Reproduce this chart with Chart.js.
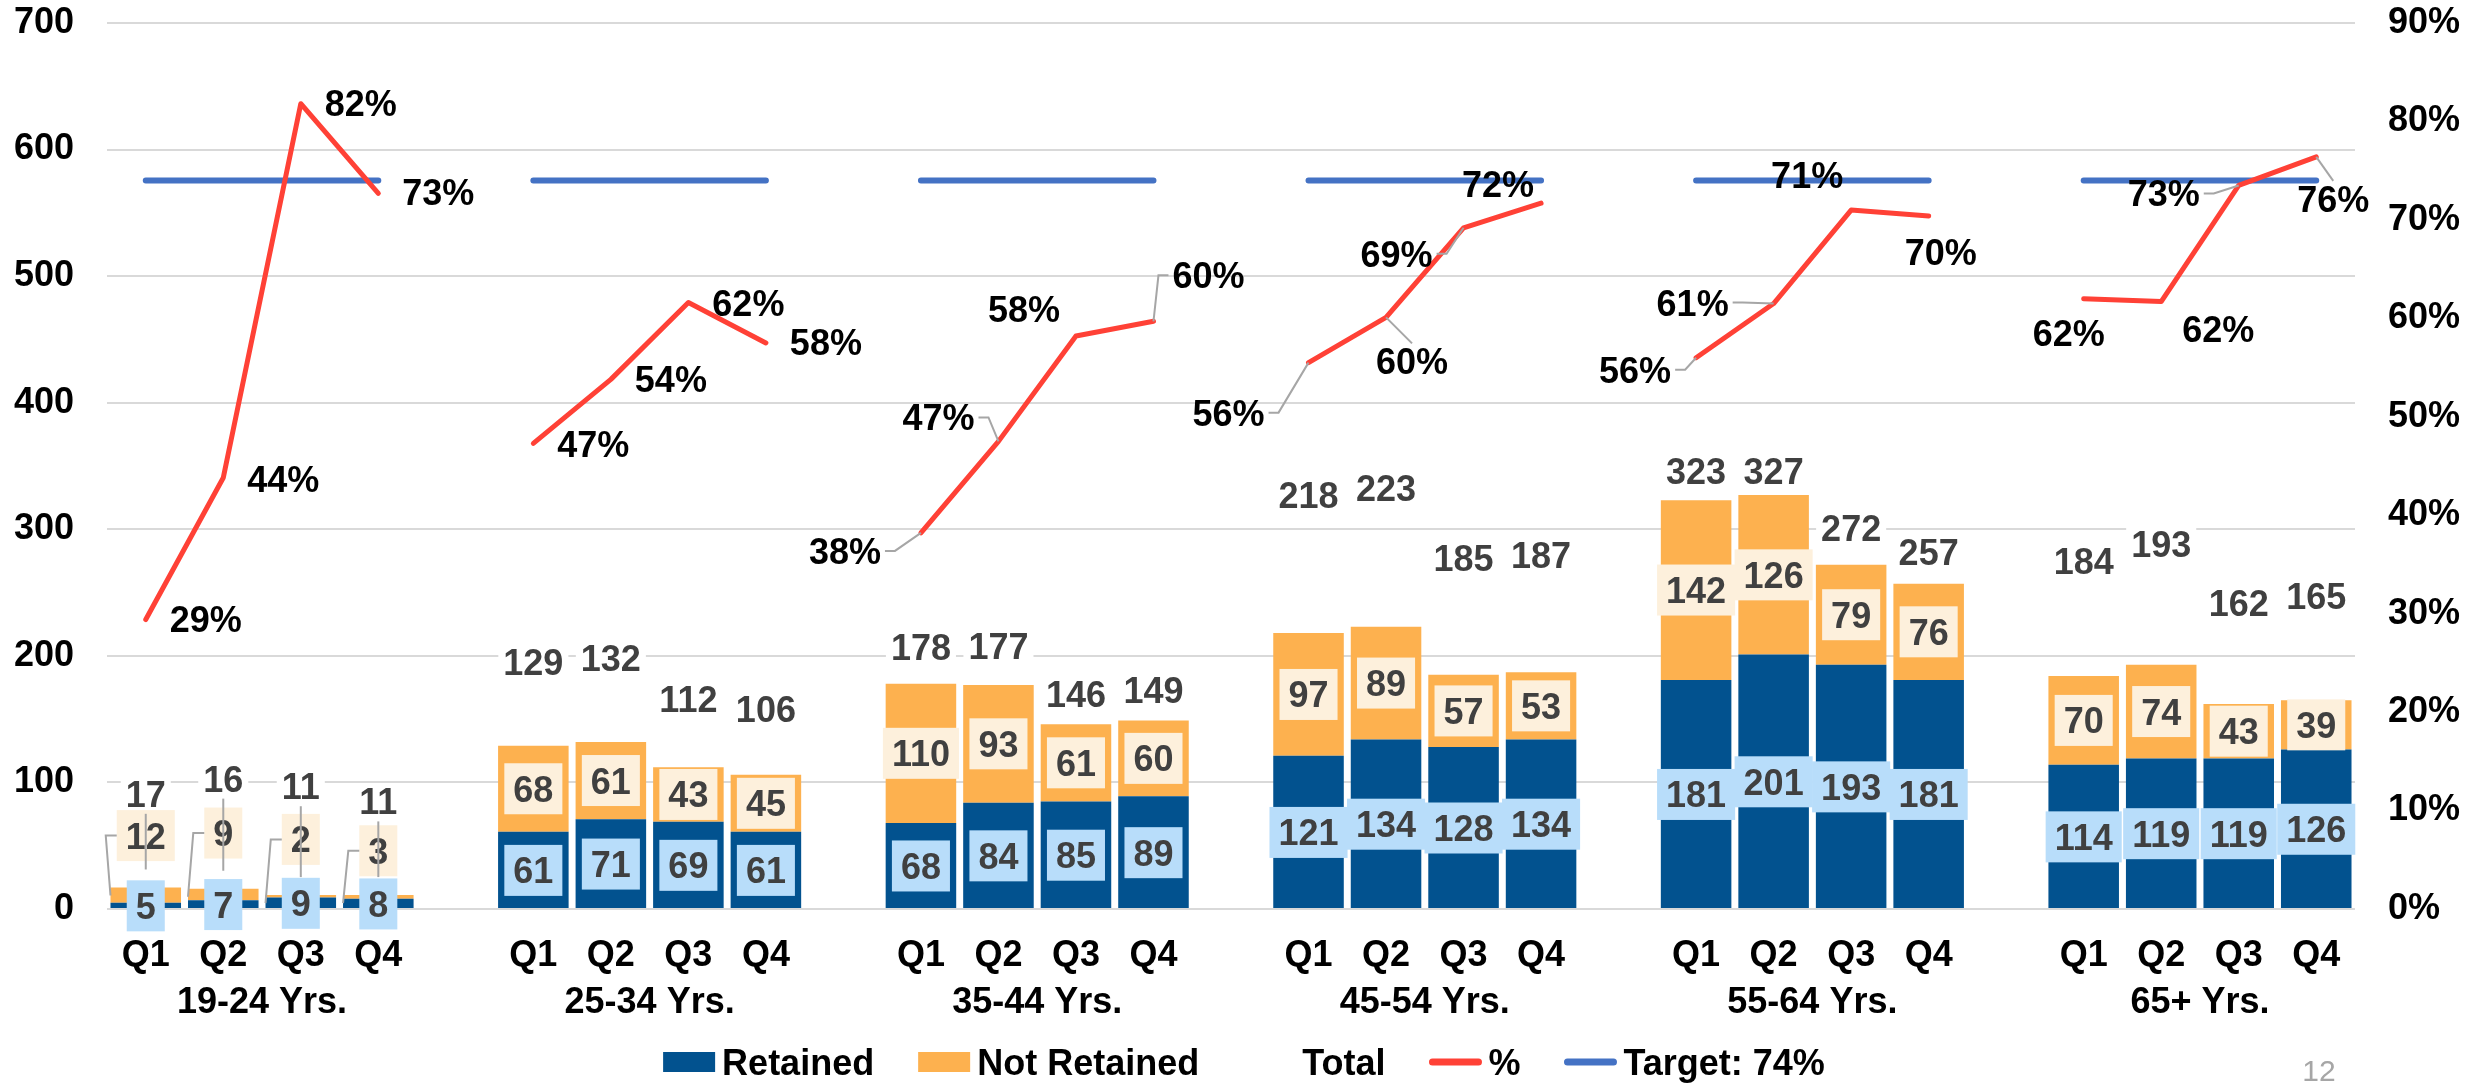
<!DOCTYPE html>
<html><head><meta charset="utf-8">
<script src="https://cdn.jsdelivr.net/npm/chart.js@4.4.0/dist/chart.umd.min.js"></script>
<style>html,body{margin:0;padding:0;background:#fff;overflow:hidden}</style>
</head><body>
<canvas id="c" width="2488" height="1083" style="display:block;width:2488px;height:1083px"></canvas>
<script>
// ---------- DATA ----------
const groups = ['19-24 Yrs.', '25-34 Yrs.', '35-44 Yrs.', '45-54 Yrs.', '55-64 Yrs.', '65+ Yrs.'];
const quarters = ['Q1', 'Q2', 'Q3', 'Q4'];
const retained = [[5,7,9,8],[61,71,69,61],[68,84,85,89],[121,134,128,134],[181,201,193,181],[114,119,119,126]];
const notRetained = [[12,9,2,3],[68,61,43,45],[110,93,61,60],[97,89,57,53],[142,126,79,76],[70,74,43,39]];
const totals = [[17,16,11,11],[129,132,112,106],[178,177,146,149],[218,223,185,187],[323,327,272,257],[184,193,162,165]];
const pctValues = [[29.4,43.8,81.8,72.7],[47.3,53.8,61.6,57.5],[38.2,47.5,58.2,59.7],[55.5,60.1,69.2,71.7],[56.0,61.5,71.0,70.4],[62.0,61.7,73.5,76.4]];
const pctLabels = [['29%','44%','82%','73%'],['47%','54%','62%','58%'],['38%','47%','58%','60%'],['56%','60%','69%','72%'],['56%','61%','71%','70%'],['62%','62%','73%','76%']];
const targetValue = 74;
const targetLabel = 'Target: 74%';
const leftTicks = [0,100,200,300,400,500,600,700];
const rightTicks = [0,10,20,30,40,50,60,70,80,90];

// ---------- LABEL LAYOUT (placement only) ----------
const totalLabelAt = [[91,103,97,85],[195,198,166,158],[207,208,170,173],[327,333,277,280],[346,346,301,282],[275,288,242,247]];
const totalLeader = [true,false,false,false,false,false];
const nrLabelAt = [[58,60,55,46],null,null,null,null,null];
const pctOffset = [
  [[60,-1],[60,1],[60,-1],[60,-1]],
  [[60,1],[60,0],[60,0],[60,-1]],
  [[-76,18],[-60,-24],[-52,-27],[55,-46]],
  [[-80,50],[26,44],[-67,26],[-43,-19]],
  [[-61,12],[-81,-1],[-44,-35],[12,36]],
  [[-15,34],[57,27],[-75,8],[17,42]]
];
const pctLeader = [
  [0,0,0,0],[0,0,0,0],[1,1,0,1],[1,1,1,0],[1,1,0,0],[0,0,1,1]
];

// ---------- BUILD FLAT ARRAYS ----------
const categories = [], retFlat = [], nrFlat = [], pctFlat = [], tgtFlat = [], idx = [];
groups.forEach((g, gi) => {
  quarters.forEach((q, qi) => {
    idx.push([gi, qi, categories.length]);
    categories.push(q);
    retFlat.push(retained[gi][qi]);
    nrFlat.push(notRetained[gi][qi]);
    pctFlat.push(pctValues[gi][qi]);
    tgtFlat.push(targetValue);
  });
  if (gi < groups.length - 1) {
    categories.push(''); retFlat.push(null); nrFlat.push(null); pctFlat.push(null); tgtFlat.push(null);
  }
});

const FONT = '"Liberation Sans", Arial, sans-serif';
const BOLD36 = 'bold 36px ' + FONT;
const C_RET = '#02528F', C_NR = '#FDB14F', C_RED = '#FF4136', C_BLUE = '#4472C4';
const C_RET_BOX = '#B8DDFA', C_NR_BOX = '#FDF0DC', C_TXT = '#404040', C_LEAD = '#A6A6A6';

function boxLabel(ctx, text, cx, cy, fill) {
  ctx.font = BOLD36;
  const w = ctx.measureText(text).width;
  const bw = w + 18, bh = 51;
  if (fill) { ctx.fillStyle = fill; ctx.fillRect(cx - bw/2, cy - bh/2, bw, bh); }
  ctx.fillStyle = C_TXT; ctx.textAlign = 'center'; ctx.textBaseline = 'alphabetic';
  ctx.fillText(text, cx, cy + 13);
  return bw;
}

const labelsPlugin = {
  id: 'labels',
  afterDatasetsDraw(chart) {
    const ctx = chart.ctx, xs = chart.scales.x, ys = chart.scales.y, y2 = chart.scales.y2;
    const half = chart.getDatasetMeta(2).data[0].width / 2;
    ctx.save();
    // total labels (white background)
    idx.forEach(([gi, qi, k]) => {
      const x = xs.getPixelForValue(k), y = ys.getPixelForValue(totalLabelAt[gi][qi]);
      ctx.font = BOLD36;
      const t = String(totals[gi][qi]); const w = ctx.measureText(t).width;
      ctx.fillStyle = '#fff'; ctx.fillRect(x - w/2 - 5, y - 18, w + 10, 36);
      ctx.fillStyle = C_TXT; ctx.textAlign = 'center'; ctx.textBaseline = 'alphabetic';
      ctx.fillText(t, x, y + 13);
    });
    // retained labels
    idx.forEach(([gi, qi, k]) => {
      const x = xs.getPixelForValue(k), y = ys.getPixelForValue(retained[gi][qi] / 2);
      boxLabel(ctx, String(retained[gi][qi]), x, y, C_RET_BOX);
    });
    // not retained labels
    idx.forEach(([gi, qi, k]) => {
      const x = xs.getPixelForValue(k);
      const v = nrLabelAt[gi] ? nrLabelAt[gi][qi] : retained[gi][qi] + notRetained[gi][qi] / 2;
      const y = ys.getPixelForValue(v);
      const bw = boxLabel(ctx, String(notRetained[gi][qi]), x, y, C_NR_BOX);
      if (nrLabelAt[gi]) {
        const top = ys.getPixelForValue(totals[gi][qi]);
        ctx.strokeStyle = C_LEAD; ctx.lineWidth = 2; ctx.beginPath();
        ctx.moveTo(x - bw/2, y); ctx.lineTo(x - bw/2 - 11, y); ctx.lineTo(x - half, top + 8); ctx.stroke();
      }
    });
    // total leaders
    idx.forEach(([gi, qi, k]) => {
      if (!totalLeader[gi]) return;
      const x = xs.getPixelForValue(k);
      const y0 = ys.getPixelForValue(totalLabelAt[gi][qi]) + 20;
      const y1 = ys.getPixelForValue(totals[gi][qi]) - 18;
      ctx.strokeStyle = C_LEAD; ctx.lineWidth = 2; ctx.beginPath();
      ctx.moveTo(x, y0); ctx.lineTo(x, y1); ctx.stroke();
    });
    // percent labels
    idx.forEach(([gi, qi, k]) => {
      const px = xs.getPixelForValue(k), py = y2.getPixelForValue(pctValues[gi][qi]);
      const lx = px + pctOffset[gi][qi][0], ly = py + pctOffset[gi][qi][1];
      ctx.font = BOLD36;
      const t = pctLabels[gi][qi]; const w = ctx.measureText(t).width;
      ctx.fillStyle = '#000'; ctx.textAlign = 'center'; ctx.textBaseline = 'alphabetic';
      ctx.fillText(t, lx, ly + 13);
      if (pctLeader[gi][qi]) {
        ctx.strokeStyle = C_LEAD; ctx.lineWidth = 2; ctx.beginPath();
        if (px > lx + w/2) { ctx.moveTo(lx + w/2 + 4, ly); ctx.lineTo(lx + w/2 + 14, ly); }
        else if (px < lx - w/2) { ctx.moveTo(lx - w/2 - 4, ly); ctx.lineTo(lx - w/2 - 14, ly); }
        else { const s = py < ly ? -1 : 1; ctx.moveTo(lx, ly + s * 18); }
        ctx.lineTo(px, py); ctx.stroke();
      }
    });
    // group labels
    groups.forEach((g, gi) => {
      const a = xs.getPixelForValue(gi * 5 + 1), b = xs.getPixelForValue(gi * 5 + 2);
      ctx.font = BOLD36; ctx.fillStyle = '#000'; ctx.textAlign = 'center'; ctx.textBaseline = 'alphabetic';
      ctx.fillText(g, (a + b) / 2, 1013);
    });
    // legend
    const items = [
      {t: 'Retained', kind: 'box', c: C_RET},
      {t: 'Not Retained', kind: 'box', c: C_NR},
      {t: 'Total', kind: 'none'},
      {t: '%', kind: 'line', c: C_RED},
      {t: targetLabel, kind: 'line', c: C_BLUE}
    ];
    ctx.font = BOLD36;
    const symW = 52, gapT = 7, gapI = 44;
    let total = 0;
    items.forEach((it, i) => { it.w = ctx.measureText(it.t).width; total += symW + gapT + it.w + (i ? gapI : 0); });
    let x = chart.width / 2 - total / 2; const ly = 1062;
    items.forEach(it => {
      if (it.kind === 'box') { ctx.fillStyle = it.c; ctx.fillRect(x, ly - 10, symW, 20); }
      else if (it.kind === 'line') {
        ctx.strokeStyle = it.c; ctx.lineWidth = 7; ctx.lineCap = 'round';
        ctx.beginPath(); ctx.moveTo(x + 3, ly); ctx.lineTo(x + symW - 3, ly); ctx.stroke();
      }
      ctx.fillStyle = '#000'; ctx.textAlign = 'left'; ctx.textBaseline = 'alphabetic';
      ctx.fillText(it.t, x + symW + gapT, ly + 13);
      x += symW + gapT + it.w + gapI;
    });
    // page number
    ctx.font = '30px ' + FONT; ctx.fillStyle = '#A6A6A6'; ctx.textAlign = 'center';
    ctx.fillText('12', 2319, 1081);
    ctx.restore();
  }
};

const tickFont = {family: FONT, size: 36, weight: 'bold'};
new Chart(document.getElementById('c'), {
  type: 'bar',
  data: {
    labels: categories,
    datasets: [
      {type: 'line', label: '%', data: pctFlat, yAxisID: 'y2', borderColor: C_RED, borderWidth: 5,
       pointRadius: 0, spanGaps: false, order: 0, borderJoinStyle: 'round', borderCapStyle: 'round', tension: 0},
      {type: 'line', label: targetLabel, data: tgtFlat, yAxisID: 'y2', borderColor: C_BLUE, borderWidth: 6,
       pointRadius: 0, spanGaps: false, order: 1, borderCapStyle: 'round'},
      {label: 'Retained', data: retFlat, backgroundColor: C_RET, stack: 's', order: 3, yAxisID: 'y',
       barPercentage: 0.91, categoryPercentage: 1},
      {label: 'Not Retained', data: nrFlat, backgroundColor: C_NR, stack: 's', order: 3, yAxisID: 'y',
       barPercentage: 0.91, categoryPercentage: 1}
    ]
  },
  options: {
    responsive: false, animation: false, devicePixelRatio: 1,
    layout: {padding: {top: 23, left: 0, right: 0, bottom: 0}},
    plugins: {legend: {display: false}, tooltip: {enabled: false}},
    scales: {
      x: {stacked: true, grid: {display: false, drawTicks: false}, border: {display: false},
          ticks: {font: tickFont, color: '#000', padding: 25, maxRotation: 0, autoSkip: false},
          afterFit(s) { s.height = 174; }},
      y: {stacked: true, position: 'left', min: 0, max: 700,
          afterBuildTicks(s) { s.ticks = leftTicks.map(v => ({value: v})); },
          ticks: {font: tickFont, color: '#000', padding: 33},
          grid: {color: '#D9D9D9', lineWidth: 2, drawTicks: false}, border: {display: false},
          afterFit(s) { s.width = 107; s.paddingTop = 0; s.paddingBottom = 0; }},
      y2: {position: 'right', min: 0, max: 90,
           afterBuildTicks(s) { s.ticks = rightTicks.map(v => ({value: v})); },
           ticks: {font: tickFont, color: '#000', padding: 33, callback: v => v + '%'},
           grid: {display: false, drawTicks: false}, border: {display: false},
           afterFit(s) { s.width = 133; s.paddingTop = 0; s.paddingBottom = 0; }}
    }
  },
  plugins: [labelsPlugin]
});
</script>
</body></html>
